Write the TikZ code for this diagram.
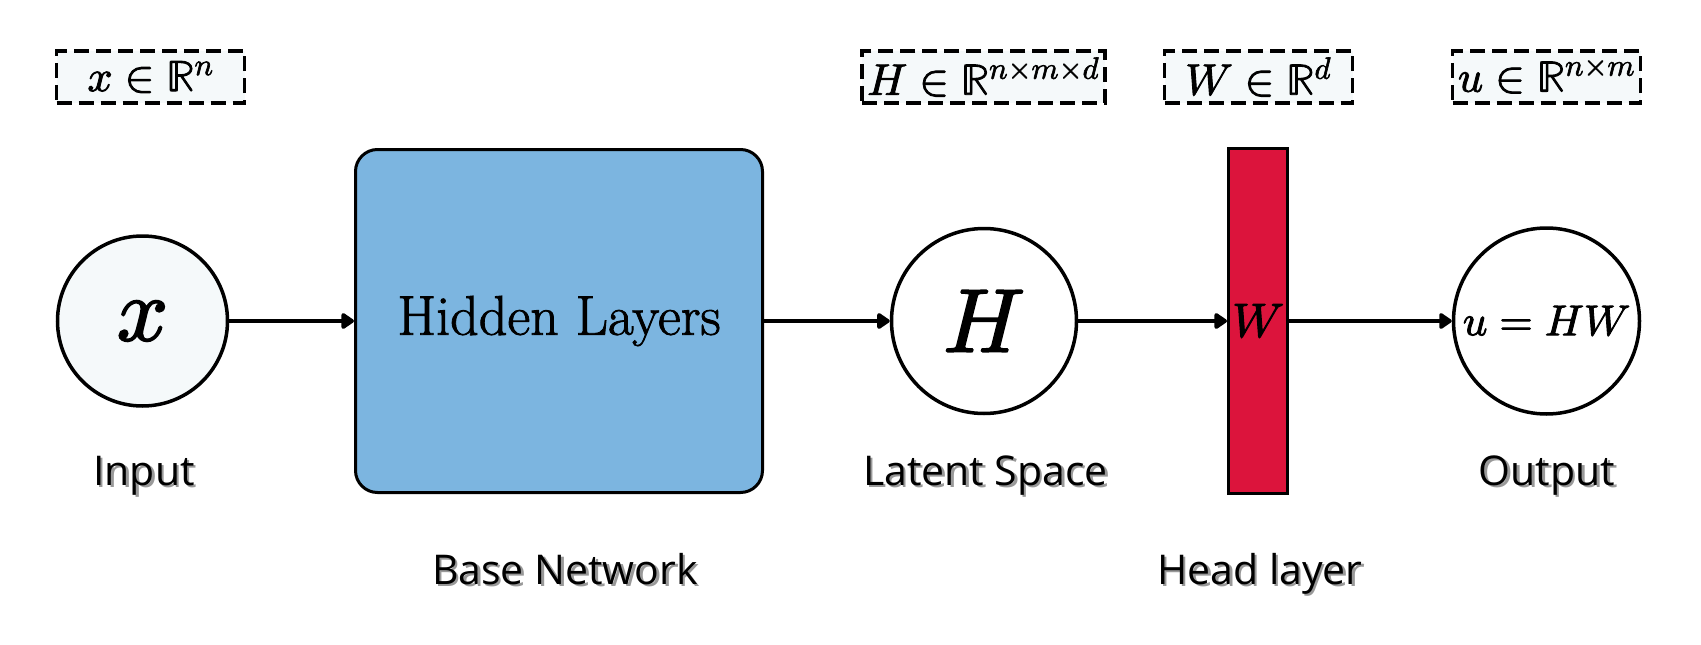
\documentclass[tikz,border=0pt]{standalone}
\usepackage{fontspec}
\usepackage{unicode-math}
\setmathfont{Latin Modern Math}[FakeBold=2]
\newfontfamily\labelfont{Open Sans}
\newfontfamily\hiddenfont{Latin Modern Roman}[FakeBold=1.5]
\usetikzlibrary{arrows.meta}
\definecolor{boxblue}{HTML}{7CB5E0}
\definecolor{headred}{HTML}{DC143C}
\definecolor{paleblue}{HTML}{F5F9FA}
\newcommand\shadowed[1]{\makebox[0pt][l]{\kern2.5pt\raisebox{-2.5pt}{\textcolor{black!40}{#1}}}#1}
\begin{document}
\begin{tikzpicture}[x=1pt,y=-1pt,
  mathbox/.style={draw, dash pattern=on 15pt off 7pt, line width=3.5pt, fill=paleblue,
    minimum width=188pt, minimum height=52pt, inner sep=5pt, font=\fontsize{44}{50}\selectfont},
  circnode/.style={draw, circle, line width=3.5pt, inner sep=0pt},
  basebox/.style={draw, rectangle, rounded corners=22pt, line width=3pt, fill=boxblue,
    minimum width=407pt, minimum height=343pt, font=\hiddenfont\fontsize{56}{64}\selectfont},
  headbar/.style={draw, rectangle, line width=3pt, fill=headred,
    minimum width=59pt, minimum height=345pt, inner sep=0pt, font=\fontsize{48}{56}\selectfont},
  lbl/.style={anchor=base, inner sep=0pt, font=\labelfont\fontsize{41}{48}\selectfont},
  arr/.style={line width=4pt, -{Triangle[length=14pt,width=18pt,round]}}
]
\fill[white] (0,0) rectangle (1701,645);
\useasboundingbox (0,0) rectangle (1701,645);

% dashed dimension boxes
\node[mathbox] (dx) at (150.5,77) {$x\in\mathbb{R}^n$};
\node[mathbox] (dh) at (983.5,77) {$H\in\mathbb{R}^{n\times m\times d}$};
\node[mathbox] (dw) at (1258.5,77) {$W\in\mathbb{R}^{d}$};
\node[mathbox] (du) at (1546.5,77) {$u\in\mathbb{R}^{n\times m}$};

% main chain
\node[circnode, fill=paleblue, minimum size=170pt, font=\fontsize{90}{100}\selectfont] (xin) at (142.5,321) {$x$};
\node[basebox] (base) at (559,321) {Hidden Layers};
\node[circnode, fill=white, minimum size=185pt, font=\fontsize{90}{100}\selectfont] (lat) at (984,321) {$H$};
\node[headbar] (head) at (1258,321) {$W$};
\node[circnode, fill=white, minimum size=186pt, font=\fontsize{43}{50}\selectfont] (out) at (1546.5,321) {$u=HW$};

% connectors
\draw[arr] (xin) -- (base);
\draw[arr] (base) -- (lat);
\draw[arr] (lat) -- (head);
\draw[arr] (head) -- (out);

% labels
\node[lbl] (lin) at (144,485) {\shadowed{Input}};
\node[lbl] (llat) at (985.5,485) {\shadowed{Latent Space}};
\node[lbl] (lout) at (1547,485) {\shadowed{Output}};
\node[lbl] (lbase) at (565,584) {\shadowed{Base Network}};
\node[lbl] (lhead) at (1260,584) {\shadowed{Head layer}};
\end{tikzpicture}
\end{document}
